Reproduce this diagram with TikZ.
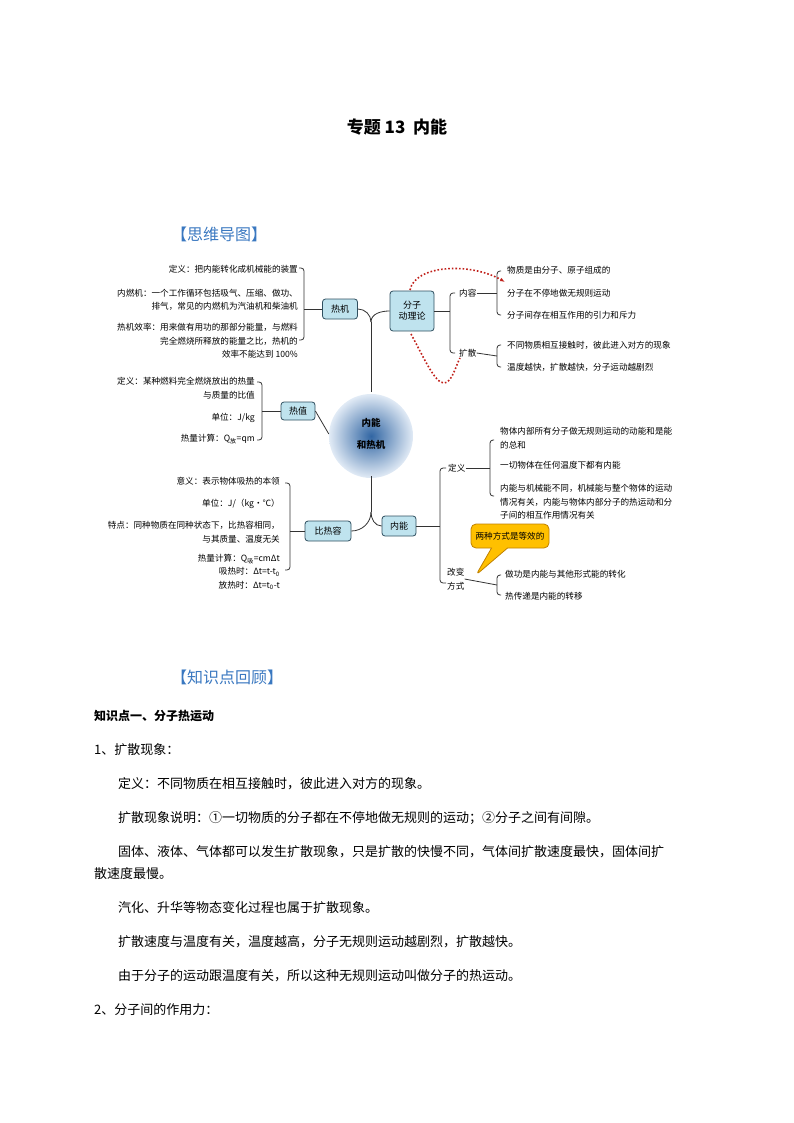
\documentclass[tikz,border=0pt]{standalone}
\usepackage{fontspec}
\setmainfont{Noto Sans CJK SC}
\usetikzlibrary{shapes.callouts,arrows.meta}
\definecolor{boxfill}{HTML}{BFE3EE}
\definecolor{boxline}{HTML}{2F4F5F}
\definecolor{headblue}{HTML}{3A78C0}
\definecolor{dotred}{HTML}{C0201A}
\definecolor{callfill}{HTML}{FFC000}
\definecolor{callline}{HTML}{C08000}
\begin{document}
\begin{tikzpicture}[x=1pt,y=-1pt,
  box/.style={draw=boxline,fill=boxfill,rounded corners=3pt,line width=0.8pt,font=\fontsize{9}{11}\selectfont,align=center,inner sep=0pt},
  lt/.style={font=\fontsize{8.6}{13.5}\selectfont,align=right,anchor=east,inner sep=0pt},
  rt/.style={font=\fontsize{8.6}{13.5}\selectfont,align=left,anchor=west,inner sep=0pt},
  ln/.style={line width=0.8pt,draw=black!80},
  br/.style={line width=0.8pt,draw=black!80,rounded corners=3pt},
  body/.style={font=\fontsize{13}{16}\selectfont,anchor=west,inner sep=0pt},
  head/.style={font=\fontsize{16}{18}\selectfont,text=headblue,anchor=west,inner sep=0pt}]
\useasboundingbox (0,0) rectangle (794,1123);
\node[font=\fontsize{17}{20}\selectfont\bfseries] (title) at (397,127) {专题 13\ \ 内能};
\node[head] (h1) at (171,234) {【思维导图】};

% center
\shade[inner color=headblue!85!black,outer color=headblue!15] (371,436) circle (42);
\node[font=\fontsize{9.5}{22}\selectfont\bfseries,align=center,circle,minimum size=84pt,inner sep=0pt] (c) at (371,434) {内能\\和热机};

% boxes
\node[box,minimum width=35pt,minimum height=20pt] (rj) at (340,309) {热机};
\node[box,minimum width=44pt,minimum height=40pt] (fz) at (412,311) {分子\\动理论};
\node[box,minimum width=34pt,minimum height=18pt] (rz) at (298,411) {热值};
\node[box,minimum width=46pt,minimum height=20pt] (brr) at (328,531) {比热容};
\node[box,minimum width=34pt,minimum height=20pt] (nn) at (399,526) {内能};

% trunk
\coordinate (top) at (371,322);
\coordinate (bot) at (371,512);
\draw[ln] (c.north) -- (top);
\draw[ln] (top) to[out=90,in=0] (rj.east);
\draw[ln] (top) to[out=90,in=180] (fz.west);
\draw[ln] (c.south) -- (bot);
\draw[ln] (bot) to[out=-90,in=0] (brr.east);
\draw[ln] (bot) to[out=-90,in=180] (nn.west);
\draw[ln] (rz.east) -- (c.west);

% 热机 leaves
\coordinate (b1) at (304,309);
\draw[ln] (rj.west) -- (b1);
\draw[br] (299,268) -- (304,268) -- (304,340) -- (299,340);
\node[lt] (r1) at (298,269) {定义：把内能转化成机械能的装置};
\node[lt] (r2) at (298,300) {内燃机：一个工作循环包括吸气、压缩、做功、\\排气，常见的内燃机为汽油机和柴油机};
\node[lt] (r3) at (298,341) {热机效率：用来做有用功的那部分能量，与燃料\\完全燃烧所释放的能量之比，热机的\\效率不能达到 100\%};

% 热值 leaves
\coordinate (b2) at (262,411);
\draw[ln] (rz.west) -- (b2);
\draw[br] (257,382) -- (262,382) -- (262,440) -- (257,440);
\node[lt] (q1) at (255,388) {定义：某种燃料完全燃烧放出的热量\\与质量的比值};
\node[lt] (q2) at (255,418) {单位：J/kg};
\node[lt] (q3) at (255,439) {热量计算：Q\textsubscript{放}=qm};

% 比热容 leaves
\coordinate (b3) at (290,531);
\draw[ln] (brr.west) -- (b3);
\draw[br] (285,483) -- (290,483) -- (290,570) -- (285,570);
\node[lt] (k1) at (280,481) {意义：表示物体吸热的本领};
\node[lt] (k2) at (280,504) {单位：J/（kg·℃）};
\node[lt] (k3) at (280,532) {特点：同种物质在同种状态下，比热容相同，\\与其质量、温度无关};
\node[lt] (k4) at (280,572) {热量计算：Q\textsubscript{吸}=cmΔt\\吸热时：Δt=t-t\textsubscript{0}\\放热时：Δt=t\textsubscript{0}-t};

% 分子动理论 branch
\coordinate (b4) at (450,311);
\draw[ln] (fz.east) -- (b4);
\draw[br] (455,293) -- (450,293) -- (450,353) -- (455,353);
\node[rt] (nr) at (459,293) {内容};
\node[rt] (ks) at (459,353) {扩散};
\draw[ln] (nr.east) -- (497,293);
\draw[br] (501,271) -- (497,271) -- (497,315) -- (501,315);
\node[rt] (f1) at (507,270) {物质是由分子、原子组成的};
\node[rt] (f2) at (507,293) {分子在不停地做无规则运动};
\node[rt] (f3) at (507,315) {分子间存在相互作用的引力和斥力};
\draw[ln] (ks.east) -- (497,356);
\draw[br] (501,345) -- (497,345) -- (497,367) -- (501,367);
\node[rt] (d1) at (507,345) {不同物质相互接触时，彼此进入对方的现象};
\node[rt] (d2) at (507,367) {温度越快，扩散越快，分子运动越剧烈};

% red dotted
\draw[dotred,line width=1.6pt,dotted,-{Latex[length=5pt]}] (410,290) .. controls (415,265) and (470,262) .. (505,282);
\coordinate (dl) at (444,383);
\draw[dotred,line width=1.6pt,dotted] (411,334) .. controls (425,360) and (435,383) .. (dl) .. controls (452,383) and (456,365) .. (460,358);

% 内能 branch
\coordinate (b5) at (440,526);
\draw[ln] (nn.east) -- (b5);
\draw[br] (446,468) -- (440,468) -- (440,583) -- (446,583);
\node[rt] (dy) at (448,468) {定义};
\node[rt,align=center] (gb) at (447,579) {改变\\方式};
\draw[ln] (dy.east) -- (490,468);
\draw[br] (494,440) -- (490,440) -- (490,496) -- (494,496);
\node[rt] (n1) at (500,438) {物体内部所有分子做无规则运动的动能和是能\\的总和};
\node[rt] (n2) at (500,465) {一切物体在任何温度下都有内能};
\node[rt] (n3) at (500,502) {内能与机械能不同，机械能与整个物体的运动\\情况有关，内能与物体内部分子的热运动和分\\子间的相互作用情况有关};
\draw[ln] (gb.east) -- (497,585);
\draw[br] (501,575) -- (497,575) -- (497,595) -- (501,595);
\node[rt] (g1) at (505,574) {做功是内能与其他形式能的转化};
\node[rt] (g2) at (505,596) {热传递是内能的转移};

% callout
\node[rectangle callout,rounded corners=5pt,fill=callfill,draw=callline,line width=0.8pt,
  minimum width=78pt,minimum height=24pt,font=\fontsize{8.6}{10}\selectfont,
  callout absolute pointer={(476,575)},callout pointer width=16pt] (cl) at (510,536) {两种方式是等效的};

% body
\node[head] (h2) at (171,677) {【知识点回顾】};
\node[body,font=\fontsize{12}{16}\selectfont\bfseries] (t1) at (94,716) {知识点一、分子热运动};
\node[body] (t2) at (94,750) {1、扩散现象：};
\node[body] (t3) at (118,784) {定义：不同物质在相互接触时，彼此进入对方的现象。};
\node[body] (t4) at (118,818) {扩散现象说明：①一切物质的分子都在不停地做无规则的运动；②分子之间有间隙。};
\node[body] (t5) at (118,852) {固体、液体、气体都可以发生扩散现象，只是扩散的快慢不同，气体间扩散速度最快，固体间扩};
\node[body] (t6) at (94,874) {散速度最慢。};
\node[body] (t7) at (118,908) {汽化、升华等物态变化过程也属于扩散现象。};
\node[body] (t8) at (118,942) {扩散速度与温度有关，温度越高，分子无规则运动越剧烈，扩散越快。};
\node[body] (t9) at (118,976) {由于分子的运动跟温度有关，所以这种无规则运动叫做分子的热运动。};
\node[body] (t10) at (94,1010) {2、分子间的作用力：};
\end{tikzpicture}
\end{document}
